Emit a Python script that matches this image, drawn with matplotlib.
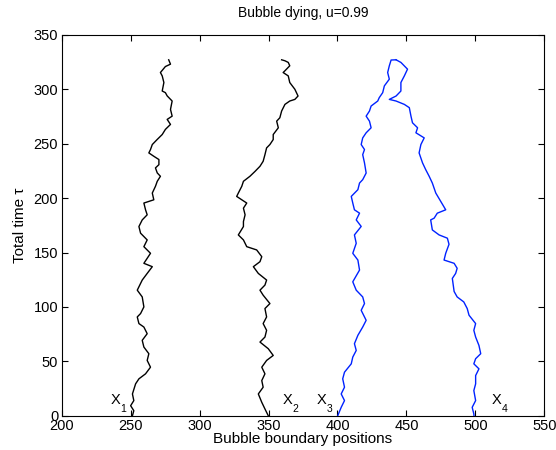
import matplotlib
matplotlib.use("Agg")
import matplotlib.pyplot as plt

plt.rcParams['font.family'] = ['Liberation Sans', 'DejaVu Sans']

# ---- data (time tau, position) ----
x1_t = [0, 4.6, 9.2, 13.9, 20, 29.3, 33.9, 38.5, 44.6, 50.8, 57, 63.1, 69.3, 75.4, 81.5, 84.7,
        90.8, 93.9, 100, 109.2, 115.4, 124.7, 130.8, 137, 140.1, 149.3, 155.4, 161.6, 167.8,
        173.9, 180, 184.7, 189.3, 195.5, 198.5, 204.7, 210.9, 215.5, 220.1, 223.2, 227.8,
        230.8, 235.5, 238.5, 241.6, 244.7, 249.3, 254, 258.5, 263.2, 267.8, 272.4, 275.4,
        281.6, 289.3, 294, 297, 298.5, 306.3, 312.4, 315.5, 321, 323.2, 327.2]
x1_x = [251.3, 252.3, 250, 252.3, 251.3, 253.6, 256, 260.8, 264.4, 262, 263.2, 259.6, 258.4, 262,
        259.6, 256, 254.8, 257.2, 259.6, 258.4, 254.8, 258.4, 262, 265.7, 259.6, 264.4, 259.6,
        262, 257.2, 256, 258.4, 262, 260.8, 259.6, 266.8, 265.7, 268, 269.3, 271.6, 269.3,
        268, 270.5, 270.5, 266.8, 263.2, 264.4, 265.7, 269.3, 272.9, 275.2, 278.9, 276.5,
        280.1, 278.9, 280.1, 276.5, 275.2, 272.9, 274.1, 272.9, 271.6, 275.2, 278.9, 277.6]

x2_t = [0, 6.2, 12.3, 20, 26.2, 32.3, 38.5, 44.6, 50.8, 55.4, 61.6, 67.7, 72.3, 78.5, 84.7,
        90.8, 98.5, 103.1, 110.8, 115.4, 120.1, 124.7, 130.8, 137, 141.6, 146.2, 152.4, 155.4,
        161.6, 166.2, 173.9, 178.5, 184.7, 190.8, 195.5, 198.5, 201.6, 204.7, 210.9, 215.5,
        220.1, 224.6, 229.3, 233.9, 240, 246.2, 249.3, 253.9, 258.5, 264.7, 270.8, 273.9,
        280.1, 286.2, 289.3, 290.8, 293.9, 300.1, 306.3, 312.4, 315.5, 317.1, 321.7, 324.8,
        326.3, 327.2]
x2_x = [349.8, 347.4, 345.1, 342.6, 346.1, 345.1, 347.4, 345.1, 348.6, 353.4, 349.8, 343.8,
        347.4, 348.6, 346.1, 348.6, 347.4, 351, 346.1, 343.8, 347.4, 348.6, 342.6, 339, 343.8,
        345.1, 341.4, 334.2, 331.8, 328.1, 331.8, 331.8, 333, 331.8, 334.2, 330.6, 326.9,
        328.1, 330.6, 331.8, 336.5, 340.2, 343.8, 346.1, 347.4, 348.6, 351, 353.4, 353.4,
        357.1, 355.9, 358.2, 359.5, 361.9, 365.4, 369.1, 371.4, 369.1, 365.4, 364.3, 360.6,
        361.9, 365.4, 364.3, 361.9, 359.5]

x3_t = [0, 7.7, 13.9, 20, 26.2, 33.9, 40, 47.7, 53.9, 60, 66.2, 73.9, 81.5, 87.7, 96.9, 103.1,
        109.2, 115.4, 123.1, 133.9, 143.1, 149.3, 158.5, 166.2, 174, 180, 186.2, 189.3, 195.5,
        201.6, 207.8, 213.9, 217, 223.1, 232.4, 240, 244.7, 249.3, 255.4, 260.1, 264.7, 270.8,
        275.4, 280.1, 284.7, 289.3, 292.4, 297, 303.2, 309.4, 315.5, 321.7, 327.0, 327.2]
x3_x = [400.2, 402.7, 405.1, 402.7, 405.1, 403.8, 405.1, 410, 411.1, 413.6, 412.3, 414.8,
        418.3, 420.8, 417.2, 419.6, 418.3, 413.6, 411.1, 416, 414.8, 411.1, 413.6, 412.3,
        417.2, 413.6, 416, 412.3, 411.1, 410, 414.8, 416, 418.3, 420.8, 419.6, 418.3, 419.6,
        417.2, 418.3, 420.8, 424.4, 423.2, 420.8, 423.2, 424.4, 429.2, 430.3, 432.8, 434,
        437.6, 436.4, 437.6, 438.9, 442.5]

x4_t = [0, 1.6, 7.7, 13.9, 23.1, 29.3, 36.9, 43.1, 47.7, 52.4, 57, 64.6, 72.3, 78.5, 84.7,
        92.4, 98.5, 104.6, 109.2, 114.2, 126.2, 130.8, 135.5, 140.1, 143.1, 149.3, 157.6,
        163.2, 166.2, 170.8, 180, 181.6, 186.2, 189.3, 197, 204.7, 213.9, 220.1, 226.2, 232.4,
        241.6, 249.3, 255.4, 260.1, 264.7, 269.3, 275.4, 283.2, 286.2, 289.3, 290.8, 293.9,
        298.5, 306.3, 312.4, 318.6, 324.8, 327.2]
x4_x = [499, 498.9, 497.7, 500.2, 498.9, 500.2, 500.2, 502.6, 498.9, 500.2, 503.9, 502.6,
        500.2, 498.9, 500.2, 495.4, 494.1, 491.6, 486.8, 484.6, 483.3, 485.7, 486.8, 484.6,
        477.3, 478.5, 480.9, 479.7, 473.7, 468.8, 467.6, 470.1, 472.4, 478.5, 474.9, 471.3,
        468.8, 466.5, 464, 461.7, 459.2, 460.5, 462.9, 456.9, 458.1, 454.4, 453.3, 452.1,
        448.5, 442.5, 437.6, 442.5, 446, 446, 448.5, 450.8, 446, 442.5]

labels = ['1', '2', '3', '4']
label_x = [235.5, 360.1, 385.2, 511.6]
label_y = [10.8, 10.8, 10.8, 10.8]

fig = plt.figure(figsize=(5.56, 4.5), dpi=100)
ax = fig.add_axes([61.7 / 556, (450 - 415.7) / 450, (544.3 - 61.7) / 556, (415.7 - 35) / 450])

ax.plot(x1_x, x1_t, color='black', lw=1.0)
ax.plot(x2_x, x2_t, color='black', lw=1.0)
ax.plot(x3_x, x3_t, color='#0022ff', lw=1.0)
ax.plot(x4_x, x4_t, color='#0022ff', lw=1.0)

for lab, lx, ly in zip(labels, label_x, label_y):
    ax.text(lx, ly, 'X', fontsize=10.5, ha='left', va='baseline')
    ax.annotate(lab, xy=(lx, ly), xytext=(7.2, -5.8), textcoords='offset points',
                fontsize=7.5, ha='left', va='baseline')

ax.set_xlim(200, 550)
ax.set_ylim(0, 350)
ax.set_xticks(range(200, 551, 50))
ax.set_yticks(range(0, 351, 50))
ax.tick_params(direction='in', top=True, right=True, labelsize=10.5, length=4, pad=2.5)
ax.set_xlabel('Bubble boundary positions', fontsize=11, labelpad=-1)
ax.set_ylabel('Total time \u03c4', fontsize=11, labelpad=5)
ax.set_title('Bubble dying, u=0.99', fontsize=10, pad=13)

fig.savefig('out.png', dpi=100)
